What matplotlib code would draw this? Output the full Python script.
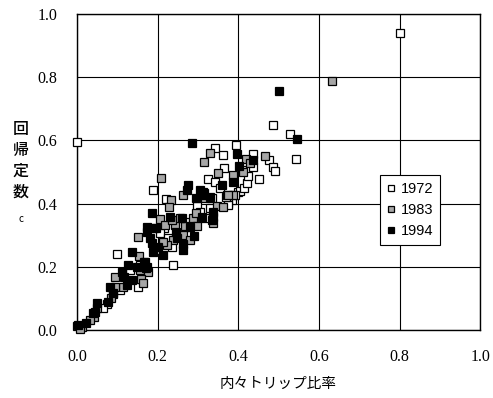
import matplotlib
matplotlib.use("Agg")
from matplotlib import pyplot as plt

# survey year series: internal trip ratio (x) vs regression constant c (y)
x1972 = [0.801, 0.000, 0.486, 0.529, 0.543, 0.395, 0.342, 0.362, 0.365, 0.437,
         0.437, 0.476, 0.486, 0.491, 0.452, 0.325, 0.342, 0.400, 0.355, 0.385,
         0.375, 0.404, 0.392, 0.298, 0.375, 0.189, 0.221, 0.216, 0.253, 0.236,
         0.275, 0.238, 0.099, 0.151, 0.074, 0.000, 0.206, 0.226, 0.268, 0.305,
         0.318, 0.330, 0.414, 0.422, 0.335, 0.315, 0.132, 0.156, 0.194, 0.065,
         0.107, 0.370, 0.424, 0.409]
y1972 = [0.940, 0.595, 0.649, 0.620, 0.541, 0.585, 0.576, 0.554, 0.513, 0.557,
         0.516, 0.538, 0.516, 0.503, 0.478, 0.478, 0.468, 0.437, 0.449, 0.411,
         0.402, 0.440, 0.427, 0.392, 0.396, 0.443, 0.415, 0.323, 0.294, 0.263,
         0.301, 0.206, 0.241, 0.136, 0.082, 0.013, 0.307, 0.291, 0.342, 0.373,
         0.354, 0.386, 0.449, 0.465, 0.418, 0.434, 0.190, 0.206, 0.253, 0.070,
         0.127, 0.421, 0.487, 0.506]

x1983 = [0.633, 0.466, 0.330, 0.315, 0.350, 0.419, 0.387, 0.372, 0.387, 0.208,
         0.233, 0.228, 0.206, 0.288, 0.263, 0.318, 0.347, 0.362, 0.337, 0.375,
         0.191, 0.218, 0.243, 0.268, 0.298, 0.263, 0.238, 0.223, 0.151, 0.213,
         0.236, 0.256, 0.280, 0.154, 0.156, 0.176, 0.094, 0.159, 0.164, 0.114,
         0.094, 0.089, 0.084, 0.050, 0.042, 0.032, 0.012, 0.007, 0.174, 0.295,
         0.412, 0.429]
y1983 = [0.788, 0.551, 0.560, 0.532, 0.497, 0.541, 0.491, 0.427, 0.427, 0.481,
         0.411, 0.389, 0.351, 0.354, 0.427, 0.418, 0.392, 0.389, 0.339, 0.427,
         0.323, 0.332, 0.332, 0.329, 0.329, 0.301, 0.285, 0.269, 0.294, 0.278,
         0.348, 0.354, 0.285, 0.234, 0.190, 0.184, 0.168, 0.161, 0.149, 0.136,
         0.136, 0.114, 0.101, 0.070, 0.041, 0.032, 0.009, 0.002, 0.199, 0.370,
         0.500, 0.528]

x1994 = [0.501, 0.285, 0.546, 0.397, 0.402, 0.437, 0.360, 0.387, 0.313, 0.330,
         0.275, 0.273, 0.305, 0.310, 0.295, 0.337, 0.337, 0.335, 0.186, 0.231,
         0.261, 0.310, 0.174, 0.174, 0.196, 0.280, 0.246, 0.290, 0.263, 0.181,
         0.186, 0.201, 0.248, 0.263, 0.189, 0.213, 0.136, 0.169, 0.127, 0.149,
         0.166, 0.171, 0.112, 0.117, 0.136, 0.124, 0.082, 0.089, 0.077, 0.050,
         0.045, 0.040, 0.022, 0.002]
y1994 = [0.756, 0.592, 0.604, 0.557, 0.519, 0.538, 0.459, 0.468, 0.437, 0.421,
         0.459, 0.443, 0.443, 0.427, 0.418, 0.373, 0.358, 0.348, 0.370, 0.358,
         0.354, 0.358, 0.326, 0.310, 0.323, 0.326, 0.310, 0.297, 0.272, 0.291,
         0.275, 0.263, 0.291, 0.253, 0.247, 0.237, 0.247, 0.215, 0.206, 0.199,
         0.215, 0.196, 0.184, 0.168, 0.158, 0.142, 0.136, 0.117, 0.089, 0.085,
         0.057, 0.054, 0.022, 0.016]

ticks = [0.0, 0.2, 0.4, 0.6, 0.8, 1.0]
tick_labels = ["0.0", "0.2", "0.4", "0.6", "0.8", "1.0"]

fig = plt.figure(figsize=(4.93, 3.98), dpi=100)
ax = fig.add_axes([0.156, 0.171, 0.818, 0.794])

mk = dict(marker="s", linestyle="none", markersize=5.2, markeredgecolor="black",
          markeredgewidth=0.9, clip_on=False, zorder=3)
ax.plot(x1972, y1972, markerfacecolor="white", label="1972", **mk)
ax.plot(x1983, y1983, markerfacecolor="#a6a6a6", label="1983", **mk)
ax.plot(x1994, y1994, markerfacecolor="black", label="1994", **mk)

ax.set_xlim(0, 1)
ax.set_ylim(0, 1)
ax.set_xticks(ticks)
ax.set_yticks(ticks)
ax.set_xticklabels(tick_labels, family="Liberation Serif", fontsize=11.5)
ax.set_yticklabels(tick_labels, family="Liberation Serif", fontsize=11.5)
ax.tick_params(length=0)
ax.tick_params(axis="x", pad=14)
ax.tick_params(axis="y", pad=14)
ax.grid(True, color="black", linewidth=0.8, zorder=0)
ax.set_axisbelow(True)
for s in ax.spines.values():
    s.set_linewidth(1.0)
    s.set_color("black")

# stacked vertical y label, with a small "c" below it
fig.text(0.042, 0.695, "回\n帰\n定\n数", family="Noto Sans CJK JP", fontsize=11.5,
         ha="center", va="top", linespacing=1.28, fontweight="medium")
fig.text(0.042, 0.462, "c", family="Noto Sans CJK JP", fontsize=7,
         ha="center", va="top")

ax.set_xlabel("内々トリップ比率", family="Noto Sans CJK JP", fontsize=10.5, labelpad=8)

leg = ax.legend(loc="upper left", bbox_to_anchor=(0.752, 0.49), frameon=True,
                fancybox=False, edgecolor="black", framealpha=1,
                prop={"family": "Liberation Sans", "size": 10.5},
                handlelength=0.6, handletextpad=0.4, borderpad=0.45,
                labelspacing=0.5, markerscale=0.85, borderaxespad=0)
leg.get_frame().set_linewidth(0.8)

fig.savefig("out.png", dpi=100)
